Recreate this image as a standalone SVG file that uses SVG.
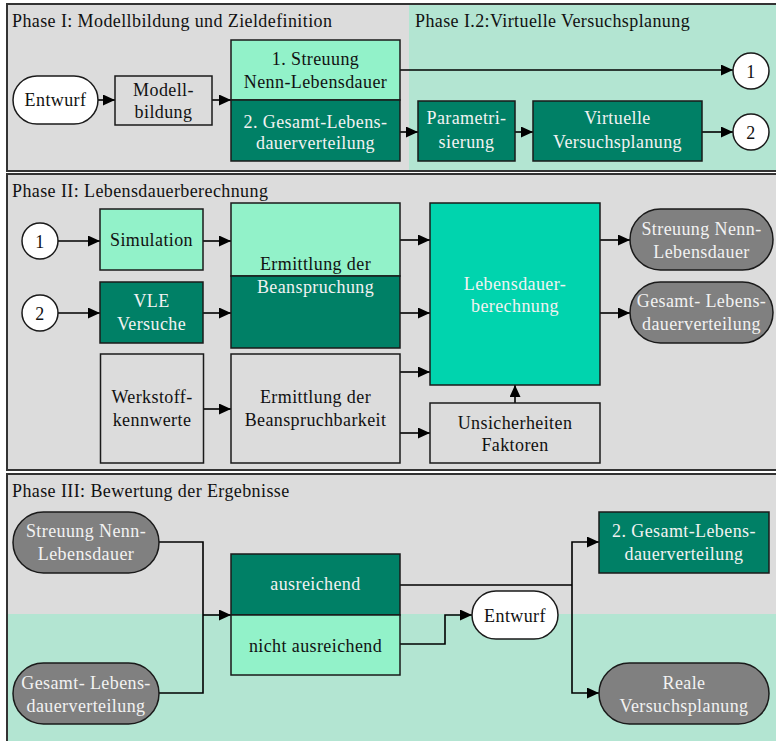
<svg xmlns="http://www.w3.org/2000/svg" width="776" height="741" viewBox="0 0 776 741">
  <style>
    text { font-family: "Liberation Serif", "Times New Roman", serif; font-size: 18px; letter-spacing: 0.4px; fill: #111; }
    .c { text-anchor: middle; }
    .w { fill: #f2f2f2; }
    .phase { fill: #dcdcdc; stroke: #333; stroke-width: 2; }
    .zone { fill: #b3e5d2; stroke: none; }
    .box { stroke: #1a1a1a; stroke-width: 1.5; }
    .grey { fill: #dcdcdc; }
    .mint { fill: #92f2c9; }
    .dark { fill: #008066; }
    .teal { fill: #00d4ae; }
    .pill { fill: #808080; }
    .white { fill: #ffffff; }
    .conn path { fill: none; stroke: #000; stroke-width: 1.6; }
    .conn .arr { marker-end: url(#head); }
  </style>
  <defs>
    <marker id="head" markerUnits="userSpaceOnUse" markerWidth="13" markerHeight="12" refX="12" refY="5.5" orient="auto">
      <path d="M0,0 L12,5.5 L0,11 Z" fill="#000"/>
    </marker>
  </defs>

  <!-- phase frames -->
  <g id="phase1">
    <rect class="phase" x="7" y="4" width="780" height="167"/>
    <rect class="zone" x="409" y="5" width="370" height="165"/>
    <text x="12" y="27">Phase I: Modellbildung und Zieldefinition</text>
    <text x="415" y="27">Phase I.2:Virtuelle Versuchsplanung</text>
  </g>
  <g id="phase2">
    <rect class="phase" x="7" y="174" width="780" height="296"/>
    <text x="12" y="197">Phase II: Lebensdauerberechnung</text>
  </g>
  <g id="phase3">
    <rect class="phase" x="7" y="474" width="780" height="280"/>
    <rect class="zone" x="8" y="614" width="770" height="130"/>
    <text x="12" y="497">Phase III: Bewertung der Ergebnisse</text>
  </g>

  <!-- connectors -->
  <g id="connectors" class="conn">
    <path class="arr" d="M98,100 H115"/>
    <path class="arr" d="M212,100 H231"/>
    <path class="arr" d="M400,70 H733"/>
    <path class="arr" d="M400,132 H418"/>
    <path class="arr" d="M515,132 H533"/>
    <path class="arr" d="M702,132 H733"/>

    <path class="arr" d="M58,241 H100"/>
    <path class="arr" d="M203,241 H231"/>
    <path class="arr" d="M58,313 H100"/>
    <path class="arr" d="M203,313 H231"/>
    <path class="arr" d="M204,409 H231"/>
    <path class="arr" d="M400,240 H430"/>
    <path class="arr" d="M400,313 H430"/>
    <path class="arr" d="M400,372 H430"/>
    <path class="arr" d="M400,433 H430"/>
    <path class="arr" d="M515,403 V385"/>
    <path class="arr" d="M600,240 H630"/>
    <path class="arr" d="M600,313 H630"/>

    <path d="M159,542 H203 V693 H159"/>
    <path class="arr" d="M203,615 H231"/>
    <path d="M400,585 H572"/>
    <path class="arr" d="M572,585 V542 H599"/>
    <path class="arr" d="M572,585 V693 H599"/>
    <path class="arr" d="M400,644 H445 V615 H472"/>
  </g>

  <!-- phase I nodes -->
  <g id="entwurf1">
    <rect class="box white" x="13" y="76" width="85" height="48" rx="24"/>
    <text class="c" x="55.5" y="106">Entwurf</text>
  </g>
  <g id="modellbildung">
    <rect class="box grey" x="115" y="76" width="97" height="49"/>
    <text class="c" x="163.5" y="95.5">Modell-</text>
    <text class="c" x="163.5" y="117.5">bildung</text>
  </g>
  <g id="ziele">
    <rect class="box mint" x="231" y="40" width="169" height="60"/>
    <rect class="box dark" x="231" y="100" width="169" height="61"/>
    <text class="c" x="315.5" y="64.5">1. Streuung</text>
    <text class="c" x="315.5" y="88">Nenn-Lebensdauer</text>
    <text class="c w" x="315.5" y="127.5">2. Gesamt-Lebens-</text>
    <text class="c w" x="315.5" y="149">dauerverteilung</text>
  </g>
  <g id="parametrisierung">
    <rect class="box dark" x="418" y="101" width="97" height="60"/>
    <text class="c w" x="466.5" y="124">Parametri-</text>
    <text class="c w" x="466.5" y="148">sierung</text>
  </g>
  <g id="virtuelle-versuchsplanung">
    <rect class="box dark" x="533" y="101" width="169" height="60"/>
    <text class="c w" x="617.5" y="124">Virtuelle</text>
    <text class="c w" x="617.5" y="148">Versuchsplanung</text>
  </g>
  <g id="ref1-out">
    <circle class="box white" cx="751" cy="71" r="18"/>
    <text class="c" x="751" y="77.5">1</text>
  </g>
  <g id="ref2-out">
    <circle class="box white" cx="751" cy="132" r="18"/>
    <text class="c" x="751" y="138.5">2</text>
  </g>

  <!-- phase II nodes -->
  <g id="ref1-in">
    <circle class="box white" cx="40" cy="241" r="18"/>
    <text class="c" x="40" y="247.5">1</text>
  </g>
  <g id="ref2-in">
    <circle class="box white" cx="40" cy="313" r="18"/>
    <text class="c" x="40" y="319.5">2</text>
  </g>
  <g id="simulation">
    <rect class="box mint" x="100" y="209" width="103" height="61"/>
    <text class="c" x="151.5" y="245.5">Simulation</text>
  </g>
  <g id="vle-versuche">
    <rect class="box dark" x="100" y="282" width="103" height="61"/>
    <text class="c w" x="151.5" y="307">VLE</text>
    <text class="c w" x="151.5" y="330">Versuche</text>
  </g>
  <g id="werkstoffkennwerte">
    <rect class="box grey" x="100.5" y="354" width="103" height="109"/>
    <text class="c" x="152" y="403">Werkstoff-</text>
    <text class="c" x="152" y="426">kennwerte</text>
  </g>
  <g id="beanspruchung">
    <rect class="box mint" x="231" y="203" width="169" height="73"/>
    <rect class="box dark" x="231" y="276" width="169" height="72"/>
    <text class="c" x="315.5" y="270">Ermittlung der</text>
    <text class="c w" x="315.5" y="293">Beanspruchung</text>
  </g>
  <g id="beanspruchbarkeit">
    <rect class="box grey" x="231" y="354" width="169" height="109"/>
    <text class="c" x="315.5" y="403">Ermittlung der</text>
    <text class="c" x="315.5" y="426">Beanspruchbarkeit</text>
  </g>
  <g id="lebensdauerberechnung">
    <rect class="box teal" x="430" y="203" width="170" height="182"/>
    <text class="c w" x="515" y="289.5">Lebensdauer-</text>
    <text class="c w" x="515" y="312">berechnung</text>
  </g>
  <g id="unsicherheiten">
    <rect class="box grey" x="430" y="403" width="170" height="60"/>
    <text class="c" x="515" y="428.5">Unsicherheiten</text>
    <text class="c" x="515" y="451">Faktoren</text>
  </g>
  <g id="streuung2">
    <rect class="box pill" x="630" y="209" width="143" height="61" rx="30.5"/>
    <text class="c w" x="701.5" y="235">Streuung Nenn-</text>
    <text class="c w" x="701.5" y="257.5">Lebensdauer</text>
  </g>
  <g id="gesamt2">
    <rect class="box pill" x="630" y="282" width="143" height="61" rx="30.5"/>
    <text class="c w" x="701.5" y="307">Gesamt- Lebens-</text>
    <text class="c w" x="701.5" y="330">dauerverteilung</text>
  </g>

  <!-- phase III nodes -->
  <g id="streuung3">
    <rect class="box pill" x="13" y="512" width="146" height="61" rx="30.5"/>
    <text class="c w" x="86" y="537">Streuung Nenn-</text>
    <text class="c w" x="86" y="559.5">Lebensdauer</text>
  </g>
  <g id="gesamt3">
    <rect class="box pill" x="13" y="663" width="146" height="61" rx="30.5"/>
    <text class="c w" x="86" y="688.5">Gesamt- Lebens-</text>
    <text class="c w" x="86" y="712">dauerverteilung</text>
  </g>
  <g id="bewertung">
    <rect class="box dark" x="231" y="554" width="169" height="61"/>
    <rect class="box mint" x="231" y="615" width="169" height="60"/>
    <text class="c w" x="315.5" y="590">ausreichend</text>
    <text class="c" x="315.5" y="652">nicht ausreichend</text>
  </g>
  <g id="entwurf3">
    <rect class="box white" x="472" y="591" width="86" height="48" rx="24"/>
    <text class="c" x="515" y="622">Entwurf</text>
  </g>
  <g id="gesamt-ergebnis">
    <rect class="box dark" x="599" y="512" width="170" height="61"/>
    <text class="c w" x="684" y="537">2. Gesamt-Lebens-</text>
    <text class="c w" x="684" y="559.5">dauerverteilung</text>
  </g>
  <g id="reale-versuchsplanung">
    <rect class="box pill" x="599" y="663" width="170" height="61" rx="30.5"/>
    <text class="c w" x="684" y="688.5">Reale</text>
    <text class="c w" x="684" y="712">Versuchsplanung</text>
  </g>
</svg>
